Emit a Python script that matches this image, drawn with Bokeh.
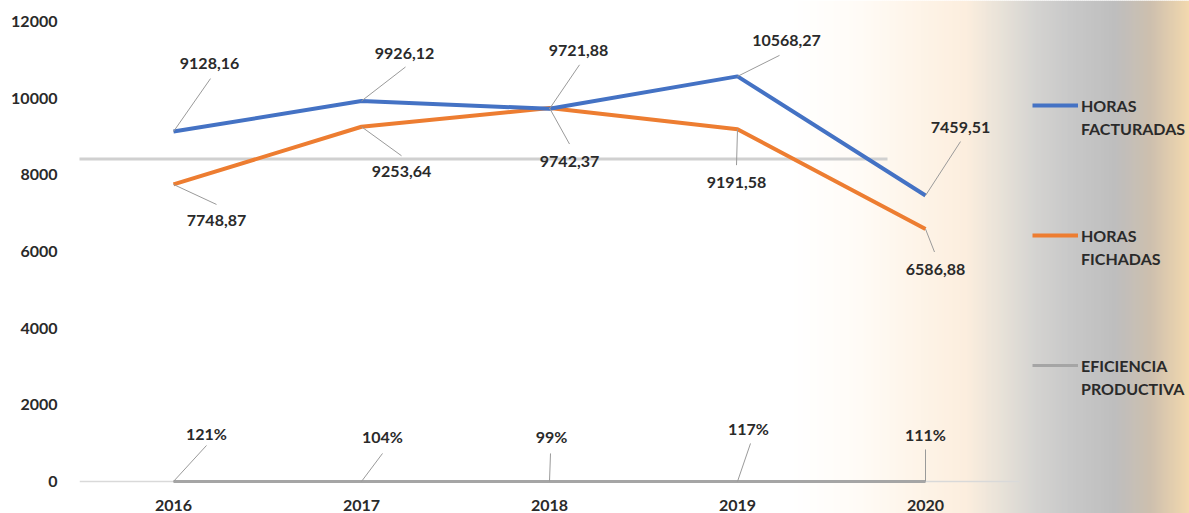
import numpy as np
from bokeh.plotting import figure
from bokeh.models import Range1d, FixedTicker, Legend, LegendItem, ColumnDataSource
from bokeh.core.properties import value
from bokeh.embed import file_html
from bokeh.resources import INLINE

# ---------------- data ----------------
YEARS = ["2016", "2017", "2018", "2019", "2020"]
HORAS_FACTURADAS = [9128.16, 9926.12, 9721.88, 10568.27, 7459.51]
HORAS_FICHADAS = [7748.87, 9253.64, 9742.37, 9191.58, 6586.88]
EFICIENCIA = [1.21, 1.04, 0.99, 1.17, 1.11]
Y_TICKS = [0, 2000, 4000, 6000, 8000, 10000, 12000]
SERIES_NAMES = [("HORAS", "FACTURADAS"), ("HORAS", "FICHADAS"), ("EFICIENCIA", "PRODUCTIVA")]

# ---------------- layout / style ----------------
W, H = 1189, 513
FRAME_LEFT = 79              # px, left border for the y axis
PX_PER_CAT = 188             # px between categories
Y_ZERO_PX = 481              # px of value 0
PX_PER_UNIT = 460 / 12000    # px per unit on y
X_START = -0.5
X_END = X_START + (W - FRAME_LEFT) / PX_PER_CAT
Y_START = -(H - Y_ZERO_PX) / PX_PER_UNIT
Y_END = Y_ZERO_PX / PX_PER_UNIT

BLUE, ORANGE, GRAY = "#4472C4", "#ED7D31", "#A5A5A5"
TEXT_COLOR = "#2A2A2A"
FONT = "Lato"

# label offsets (px) relative to each point: label centre and leader end
FACT_LABEL_OFF = [(36, -68), (43, -47), (29, -58), (49, -36), (35, -68)]
FACT_LEADER_END = [(37, -53), (44, -34), (30, -44), (42, -21), (35, -54)]
FICH_LABEL_OFF = [(43, 36), (40, 45), (20, 53), (-1, 53), (10, 40)]
FICH_LEADER_END = [(43, 20), (40, 29), (20, 36), (-1, 36), (9, 23)]
EF_LABEL_OFF = [(33, -48), (21, -45), (2, -45), (11, -53), (0, -47)]
EF_LEADER_END = [(33, -36), (21, -28), (1, -28), (13, -38), (0, -32)]

# background gradient stops (px, colour)
GRAD_STOPS = [(790, "#FFFFFF"), (860, "#FFFBF6"), (900, "#FEF6EC"), (940, "#FDF1E3"),
              (965, "#FCEEDE"), (1000, "#E8E2D8"), (1035, "#D4D3D1"), (1070, "#C8C8C8"),
              (1115, "#BEBEBE"), (1150, "#CDBFAE"), (1189, "#F3D9AE")]
# stray grey rule in the original (px x-extent, value level)
RULE_X_PX = (51, 887)
RULE_LEVEL = 8413


def px_to_x(px):
    return X_START + (px - FRAME_LEFT) / PX_PER_CAT


p = figure(width=W, height=H, output_backend="svg", toolbar_location=None,
           x_range=Range1d(X_START, X_END), y_range=Range1d(Y_START, Y_END),
           x_axis_location=None, min_border_left=FRAME_LEFT, min_border_right=0,
           min_border_top=0, min_border_bottom=0)
p.outline_line_color = None
p.grid.visible = False
p.background_fill_color = "white"
p.border_fill_color = "white"

# y axis
ax = p.yaxis[0]
ax.ticker = FixedTicker(ticks=Y_TICKS)
ax.axis_line_color = None
ax.major_tick_line_color = None
ax.minor_tick_line_color = None
ax.major_label_standoff = 16
ax.major_label_text_font = FONT
ax.major_label_text_font_style = "bold"
ax.major_label_text_font_size = "16px"
ax.major_label_text_color = TEXT_COLOR

# gradient background
def hex2rgb(h):
    return np.array([int(h[i:i + 2], 16) for i in (1, 3, 5)], dtype=float)

stop_px = np.array([s[0] for s in GRAD_STOPS], dtype=float)
stop_rgb = np.array([hex2rgb(s[1]) for s in GRAD_STOPS])
edges = np.arange(stop_px[0], stop_px[-1] + 2, 2.0)
mids = (edges[:-1] + edges[1:]) / 2
cols = []
for m in mids:
    rgb = [np.interp(m, stop_px, stop_rgb[:, k]) for k in range(3)]
    cols.append("#%02x%02x%02x" % tuple(int(round(c)) for c in rgb))
p.quad(left=[px_to_x(e) for e in edges[:-1]], right=[px_to_x(e) + 2.6 / PX_PER_CAT for e in edges[:-1]],
       bottom=Y_START, top=Y_END, fill_color=cols, line_color=None, level="underlay")

xs = np.arange(len(YEARS), dtype=float)

# stray grey rule and x baseline
p.segment(x0=[px_to_x(RULE_X_PX[0])], x1=[px_to_x(RULE_X_PX[1])], y0=[RULE_LEVEL], y1=[RULE_LEVEL],
          line_color="#D0D0D0", line_width=3)
p.segment(x0=[-0.5], x1=[len(YEARS) - 0.5], y0=[0], y1=[0], line_color="#D9D9D9", line_width=1.5)

# series
r_ef = p.line(xs, EFICIENCIA, line_color=GRAY, line_width=3)
r_fich = p.line(xs, HORAS_FICHADAS, line_color=ORANGE, line_width=4)
r_fact = p.line(xs, HORAS_FACTURADAS, line_color=BLUE, line_width=4)


def labels(vals, texts, lab_off, lead_end):
    vals = np.array(vals, dtype=float)
    p.segment(x0=xs, y0=vals,
              x1=xs + np.array([d[0] for d in lead_end]) / PX_PER_CAT,
              y1=vals - np.array([d[1] for d in lead_end]) / PX_PER_UNIT,
              line_color="#9A9A9A", line_width=1)
    src = ColumnDataSource(dict(x=xs, y=vals, t=texts,
                                xo=[d[0] for d in lab_off], yo=[d[1] for d in lab_off]))
    p.text(x="x", y="y", text="t", x_offset="xo", y_offset="yo", source=src,
           text_align="center", text_baseline="middle", text_font=value(FONT),
           text_font_style="bold", text_font_size="16px", text_color=TEXT_COLOR)


fmt = lambda v: f"{v:.2f}".replace(".", ",")
labels(HORAS_FACTURADAS, [fmt(v) for v in HORAS_FACTURADAS], FACT_LABEL_OFF, FACT_LEADER_END)
labels(HORAS_FICHADAS, [fmt(v) for v in HORAS_FICHADAS], FICH_LABEL_OFF, FICH_LEADER_END)
labels(EFICIENCIA, [f"{round(v * 100)}%" for v in EFICIENCIA], EF_LABEL_OFF, EF_LEADER_END)

# x category labels
p.text(x=xs, y=[0] * len(YEARS), text=YEARS, y_offset=24, text_align="center",
       text_baseline="middle", text_font=value(FONT), text_font_style="bold",
       text_font_size="16px", text_color=TEXT_COLOR)

# legend: first line of each name with its glyph, second line underneath
renderers = [r_fact, r_fich, r_ef]
LEG_KW = dict(border_line_color=None, background_fill_alpha=0, padding=0, margin=0,
              spacing=110, glyph_height=20, label_height=20, label_standoff=3,
              label_text_font=FONT, label_text_font_style="bold",
              label_text_font_size="16px", label_text_color=TEXT_COLOR)
leg1 = Legend(items=[LegendItem(label=n[0], renderers=[r]) for n, r in zip(SERIES_NAMES, renderers)],
              location=(953, 138), glyph_width=46, **LEG_KW)
leg2 = Legend(items=[LegendItem(label=n[1], renderers=[r]) for n, r in zip(SERIES_NAMES, renderers)],
              location=(953 + 46, 115), glyph_width=0, **LEG_KW)
p.add_layout(leg1)
p.add_layout(leg2)

open("out.html", "w").write(file_html(p, INLINE))
